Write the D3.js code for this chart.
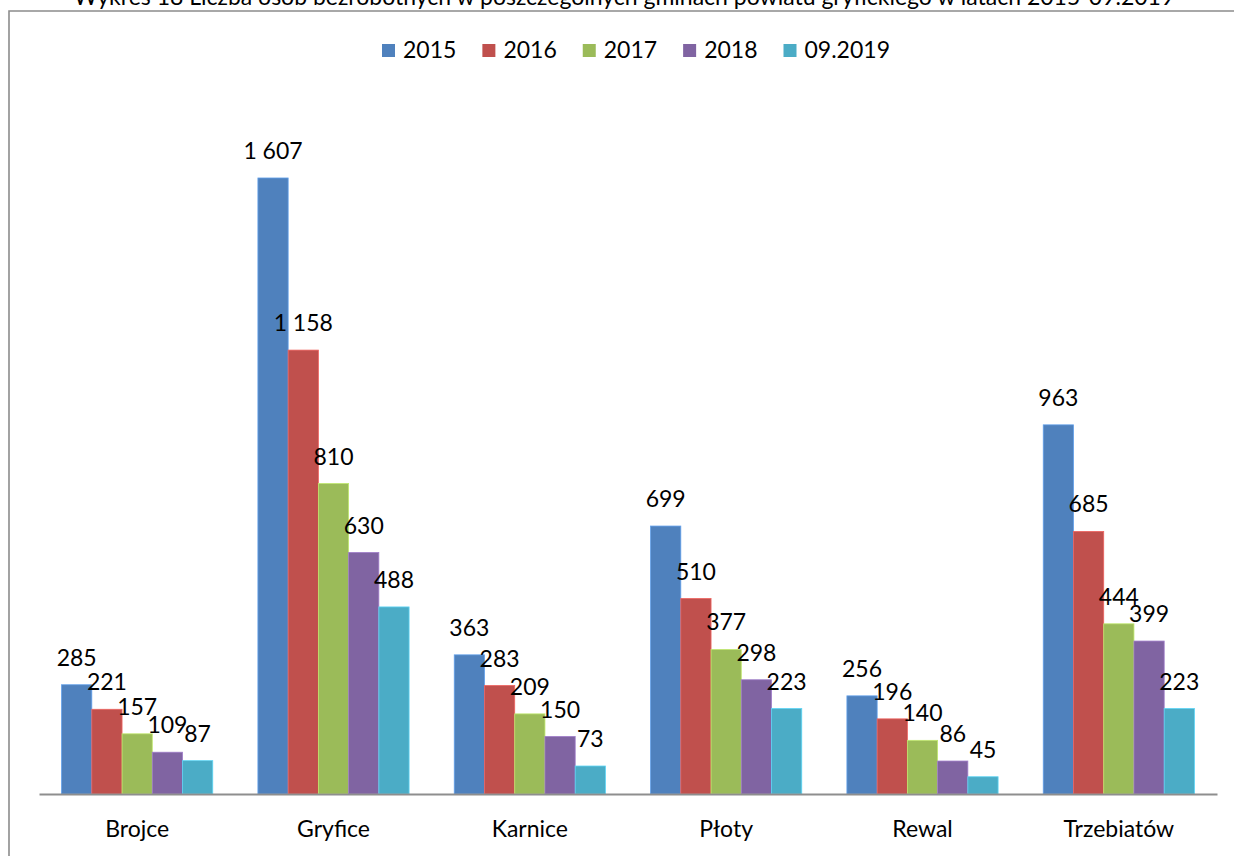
<!DOCTYPE html>
<html>
<head>
<meta charset="utf-8">
<script src="https://cdn.jsdelivr.net/npm/d3@7/dist/d3.min.js"></script>
<style>
  html, body { margin: 0; padding: 0; background: #fff; }
  svg { display: block; }
  text { font-family: Lato, "Open Sans", sans-serif; fill: #000; }
</style>
</head>
<body>
<svg id="chart" width="1234" height="856"></svg>
<script>
const title = "Wykres 18 Liczba osób bezrobotnych w poszczególnych gminach powiatu gryfickiego w latach 2015-09.2019";
const categories = ["Brojce", "Gryfice", "Karnice", "Płoty", "Rewal", "Trzebiatów"];
const seriesNames = ["2015", "2016", "2017", "2018", "09.2019"];
const values2015 = [285, 1607, 363, 699, 256, 963];
const values2016 = [221, 1158, 283, 510, 196, 685];
const values2017 = [157, 810, 209, 377, 140, 444];
const values2018 = [109, 630, 150, 298, 86, 399];
const values2019 = [87, 488, 73, 223, 45, 223];
const colors = ["#4F81BD", "#C0504D", "#9BBB59", "#8064A2", "#4BACC6"];

const seriesValues = [values2015, values2016, values2017, values2018, values2019];
const svg = d3.select("#chart");

// frame (cut at right / bottom)
svg.append("path")
  .attr("d", "M9,860 L9,11 L1240,11")
  .attr("fill", "none").attr("stroke", "#8c8c8c").attr("stroke-width", 1.6);

// title (cut at top, as in the source)
svg.append("text")
  .attr("x", 624).attr("y", 4.5)
  .attr("text-anchor", "middle")
  .style("font-size", "23px")
  .text(title);

const x0 = d3.scaleBand().domain(categories).range([39, 1217])
  .paddingInner(0.23).paddingOuter(0.115);
const x1 = d3.scaleBand().domain(seriesNames).range([0, x0.bandwidth()]).padding(0);
const y = d3.scaleLinear().domain([0, 1800]).range([794, 104]);

const fmt = v => d3.format(",")(v).replace(/,/g, " ");

const data = [];
categories.forEach((c, ci) => {
  seriesNames.forEach((s, si) => {
    data.push({ c, s, si, v: seriesValues[si][ci] });
  });
});

const bars = svg.append("g");
bars.selectAll("rect").data(data).enter().append("rect")
  .attr("x", d => x0(d.c) + x1(d.s))
  .attr("y", d => y(d.v))
  .attr("width", x1.bandwidth())
  .attr("height", d => y(0) - y(d.v))
  .attr("fill", d => colors[d.si])
  .attr("stroke", d => d3.color(colors[d.si]).brighter(0.6))
  .attr("stroke-width", 0.8);

svg.append("g").selectAll("text").data(data).enter().append("text")
  .attr("x", d => x0(d.c) + x1(d.s) + x1.bandwidth() / 2)
  .attr("y", d => y(d.v) - 19)
  .attr("text-anchor", "middle")
  .style("font-size", "23px")
  .text(d => fmt(d.v));

// axis baseline
const axis = svg.append("g").attr("transform", `translate(0,${y(0)})`)
  .call(d3.axisBottom(x0).tickSize(0).tickPadding(26.7));
axis.select(".domain").attr("stroke", "#8e8e8e").attr("stroke-width", 2);
axis.selectAll(".tick text")
  .style("font-family", "Lato, 'Open Sans', sans-serif")
  .style("font-size", "23px").attr("fill", "#000");

// legend
const legend = svg.append("g");
let lx = 382;
seriesNames.forEach((s, i) => {
  legend.append("rect").attr("x", lx).attr("y", 44).attr("width", 13).attr("height", 13)
    .attr("fill", colors[i]);
  const t = legend.append("text").attr("x", lx + 21).attr("y", 57.5)
    .style("font-size", "23px").text(s);
  lx = lx + 21 + t.node().getComputedTextLength() + 26;
});
</script>
</body>
</html>
